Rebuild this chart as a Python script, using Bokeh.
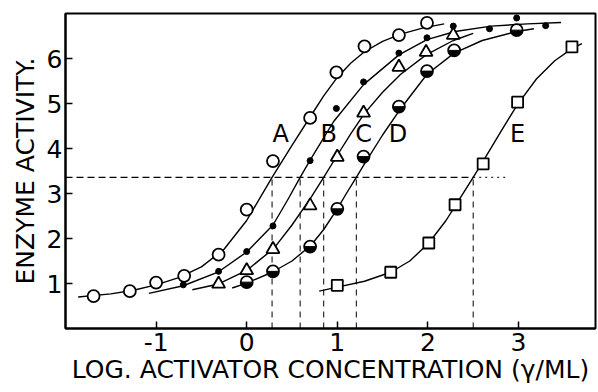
import math
from bokeh.plotting import figure
from bokeh.models import Range1d, FixedTicker
from bokeh.core.properties import value
from bokeh.embed import file_html
from bokeh.resources import INLINE

# ---- measured points (log activator conc., enzyme activity) ----
A_x = [-1.69, -1.29, -1.00, -0.69, -0.31, 0.00, 0.29, 0.70, 0.99, 1.30, 1.68, 1.99]
A_y = [0.72, 0.83, 1.02, 1.17, 1.64, 2.64, 3.72, 4.68, 5.69, 6.27, 6.52, 6.79]

B_x = [-0.70, -0.31, 0.00, 0.29, 0.70, 0.99, 1.29, 1.68, 1.99, 2.28, 2.68, 2.98, 3.30]
B_y = [0.97, 1.27, 1.71, 2.28, 3.73, 4.89, 5.48, 6.12, 6.46, 6.72, 6.66, 6.90, 6.73]

C_x = [-0.31, 0.00, 0.29, 0.70, 1.00, 1.29, 1.68, 1.98, 2.28]
C_y = [0.99, 1.29, 1.76, 2.73, 3.81, 4.79, 5.81, 6.14, 6.52]

D_x = [0.00, 0.29, 0.70, 1.00, 1.29, 1.68, 1.99, 2.29, 2.98]
D_y = [1.03, 1.27, 1.82, 2.66, 3.82, 4.93, 5.72, 6.18, 6.63]

E_x = [1.00, 1.59, 2.01, 2.30, 2.61, 2.99, 3.59]
E_y = [0.96, 1.25, 1.90, 2.75, 3.66, 5.03, 6.26]

# ---- drawn fitted curves ----
cA_x = [-1.86, -1.5, -1.25, -1.0, -0.75, -0.5, -0.25, 0.0, 0.28, 0.5, 0.7, 0.85, 1.0, 1.15, 1.3, 1.5, 1.7, 1.95, 2.18]
cA_y = [0.70, 0.77, 0.85, 0.97, 1.13, 1.37, 1.76, 2.40, 3.36, 4.07, 4.70, 5.17, 5.58, 5.90, 6.15, 6.38, 6.54, 6.68, 6.77]

cB_x = [-1.08, -0.7, -0.31, 0.0, 0.29, 0.45, 0.59, 0.7, 0.96, 1.29, 1.68, 1.99, 2.3, 2.7, 3.1, 3.47]
cB_y = [0.78, 0.95, 1.26, 1.70, 2.30, 2.85, 3.36, 3.74, 4.60, 5.42, 6.08, 6.42, 6.60, 6.72, 6.77, 6.80]

cC_x = [-0.60, -0.31, 0.0, 0.3, 0.5, 0.7, 0.85, 1.0, 1.15, 1.3, 1.5, 1.7, 1.98, 2.28, 2.5]
cC_y = [0.86, 0.99, 1.29, 1.78, 2.30, 2.88, 3.36, 3.85, 4.33, 4.78, 5.25, 5.65, 6.08, 6.40, 6.56]

cD_x = [-0.16, 0.0, 0.28, 0.5, 0.71, 0.85, 1.0, 1.1, 1.21, 1.3, 1.5, 1.69, 1.99, 2.29, 2.6, 2.98, 3.17]
cD_y = [0.90, 1.01, 1.25, 1.50, 1.85, 2.20, 2.66, 3.00, 3.36, 3.66, 4.30, 4.86, 5.65, 6.12, 6.40, 6.60, 6.66]

cE_x = [0.8, 1.0, 1.3, 1.59, 1.8, 2.01, 2.2, 2.3, 2.5, 2.61, 2.8, 2.99, 3.2, 3.4, 3.59, 3.70]
cE_y = [0.83, 0.92, 1.05, 1.25, 1.50, 1.90, 2.40, 2.72, 3.36, 3.72, 4.36, 4.98, 5.55, 5.95, 6.22, 6.33]

# half-activity level and the concentrations where each curve reaches it
half_level = 3.36
half_x = [0.28, 0.59, 0.85, 1.21, 2.50]
half_line_end = 2.88

curve_names = ["A", "B", "C", "D", "E"]
name_x = [0.375, 0.905, 1.29, 1.67, 2.99]
name_y = [4.33, 4.33, 4.33, 4.33, 4.33]

x_ticks = [-1, 0, 1, 2, 3]
x_tick_labels = {-1: "-1", 0: "0", 1: "1", 2: "2", 3: "3"}
y_ticks = [1, 2, 3, 4, 5, 6]

FONT = "DejaVu Sans"

p = figure(width=598, height=392, x_range=Range1d(-2, 3.85), y_range=Range1d(0, 7),
           output_backend="svg", toolbar_location=None,
           min_border_left=65, min_border_right=3, min_border_top=13, min_border_bottom=64)
p.grid.visible = False
p.background_fill_color = "white"
p.border_fill_color = "white"
p.outline_line_color = "black"
p.outline_line_width = 2

for ax in (p.xaxis, p.yaxis):
    ax.axis_line_color = "black"
    ax.axis_line_width = 2
    ax.major_tick_in = 7
    ax.major_tick_out = 0
    ax.major_tick_line_width = 1.5
    ax.minor_tick_line_color = None
    ax.major_label_text_font = FONT
    ax.major_label_text_font_size = "25px"
    ax.major_label_text_color = "black"
    ax.axis_label_text_font = FONT
    ax.axis_label_text_font_size = "25px"
    ax.axis_label_text_font_style = "normal"
    ax.axis_label_text_color = "black"

p.xaxis.ticker = FixedTicker(ticks=x_ticks)
p.xaxis.major_label_overrides = x_tick_labels
p.yaxis.ticker = FixedTicker(ticks=y_ticks)
p.xaxis.major_label_standoff = 4
p.yaxis.major_label_standoff = 3
p.xaxis.axis_label = "LOG. ACTIVATOR CONCENTRATION (γ/ML)"
p.yaxis.axis_label = "ENZYME ACTIVITY."
p.xaxis.axis_label_standoff = 1
p.yaxis.axis_label_standoff = 4

# dashed guide lines
p.line([-2, half_x[-1]], [half_level, half_level], line_color="black", line_width=1.3, line_dash="7 4")
p.line([half_x[-1], half_line_end], [half_level, half_level], line_color="black", line_width=1, line_dash="2 4")
for hx in half_x:
    p.line([hx, hx], [0, half_level], line_color="black", line_width=1, line_dash="6 5")

# curves
for cx, cy in [(cA_x, cA_y), (cB_x, cB_y), (cC_x, cC_y), (cD_x, cD_y), (cE_x, cE_y)]:
    p.line(cx, cy, line_color="black", line_width=1.4)

# markers
p.scatter(A_x, A_y, marker="circle", size=12, fill_color="white", line_color="black", line_width=1.8)
p.scatter(B_x, B_y, marker="circle", size=6, fill_color="black", line_color="black")
p.scatter(C_x, C_y, marker="triangle", size=13, fill_color="white", line_color="black", line_width=1.8)
p.scatter(D_x, D_y, marker="circle", size=12, fill_color="white", line_color="black", line_width=1.8)
p.wedge(D_x, D_y, radius=5.5, radius_units="screen", start_angle=math.pi, end_angle=2 * math.pi,
        fill_color="black", line_color="black")
p.scatter(E_x, E_y, marker="square", size=11, fill_color="white", line_color="black", line_width=1.8)

p.text(name_x, name_y, text=curve_names, text_font=value(FONT), text_font_size="24px",
       text_align="center", text_baseline="middle", text_color="black")

open("out.html", "w").write(file_html(p, INLINE))
